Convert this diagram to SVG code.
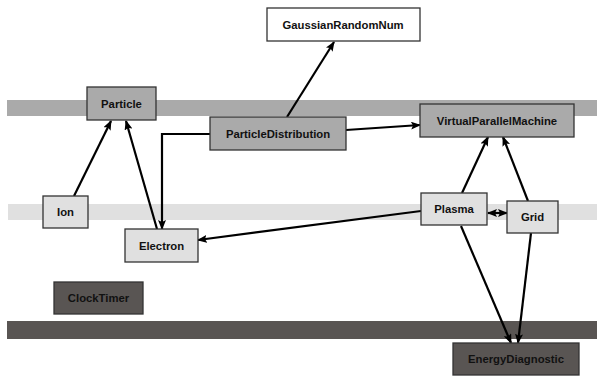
<svg xmlns="http://www.w3.org/2000/svg" width="597" height="377" viewBox="0 0 597 377">
<defs>
<style>
.n rect{stroke:#333;stroke-width:1.3}
.n text{font-family:"Liberation Sans",Arial,sans-serif;font-weight:bold;font-size:11.3px;text-anchor:middle;fill:#111}
.c line,.c polyline{stroke:#000;stroke-width:2.2;fill:none;marker-end:url(#ah)}
.l1{fill:#aaaaaa}.l2{fill:#e0e0e0}.l3{fill:#595553}.w{fill:#fff}
</style>
<marker id="ah" viewBox="0 0 10 8" refX="9" refY="4" markerWidth="10" markerHeight="8" markerUnits="userSpaceOnUse" orient="auto-start-reverse">
<path d="M0,0 L10,4 L0,8 L2,4 z" fill="#000"/>
</marker>
</defs>
<rect width="597" height="377" fill="#fff"/>
<g id="bands">
<rect x="7" y="100" width="590" height="16" class="l1"/>
<rect x="8" y="204" width="589" height="16" class="l2"/>
<rect x="7" y="321" width="590" height="18" class="l3"/>
</g>
<g id="connectors" class="c">
<line x1="74" y1="196" x2="111" y2="121"/>
<line x1="157" y1="229" x2="126" y2="121"/>
<polyline points="210,134 162,134 162,229"/>
<line x1="287" y1="117" x2="334" y2="42"/>
<line x1="346" y1="130" x2="420" y2="125"/>
<line x1="462" y1="193" x2="488" y2="137"/>
<line x1="528" y1="201" x2="503" y2="137"/>
<line x1="488" y1="213" x2="507" y2="213" style="marker-start:url(#ah)"/>
<line x1="421" y1="211" x2="198" y2="240"/>
<line x1="461" y1="226" x2="511" y2="343"/>
<line x1="531" y1="233" x2="518" y2="343"/>
</g>
<g id="GaussianRandomNum" class="n"><rect x="267" y="8" width="153" height="33" class="w"/><text x="343" y="29">GaussianRandomNum</text></g>
<g id="Particle" class="n"><rect x="87" y="87" width="69" height="33" class="l1"/><text x="121.5" y="108">Particle</text></g>
<g id="ParticleDistribution" class="n"><rect x="210" y="117" width="136" height="33" class="l1"/><text x="278" y="138">ParticleDistribution</text></g>
<g id="VirtualParallelMachine" class="n"><rect x="420" y="104" width="154" height="33" class="l1"/><text x="497" y="125">VirtualParallelMachine</text></g>
<g id="Ion" class="n"><rect x="43" y="196" width="45" height="32" class="l2"/><text x="65.5" y="216">Ion</text></g>
<g id="Electron" class="n"><rect x="125" y="229" width="73" height="33" class="l2"/><text x="161.5" y="250">Electron</text></g>
<g id="Plasma" class="n"><rect x="421" y="193" width="66" height="32" class="l2"/><text x="454" y="213">Plasma</text></g>
<g id="Grid" class="n"><rect x="507" y="201" width="51" height="32" class="l2"/><text x="532.5" y="221">Grid</text></g>
<g id="ClockTimer" class="n"><rect x="54" y="282" width="89" height="32" class="l3"/><text x="98.5" y="302">ClockTimer</text></g>
<g id="EnergyDiagnostic" class="n"><rect x="453" y="343" width="126" height="32" class="l3"/><text x="516" y="363">EnergyDiagnostic</text></g>
</svg>
